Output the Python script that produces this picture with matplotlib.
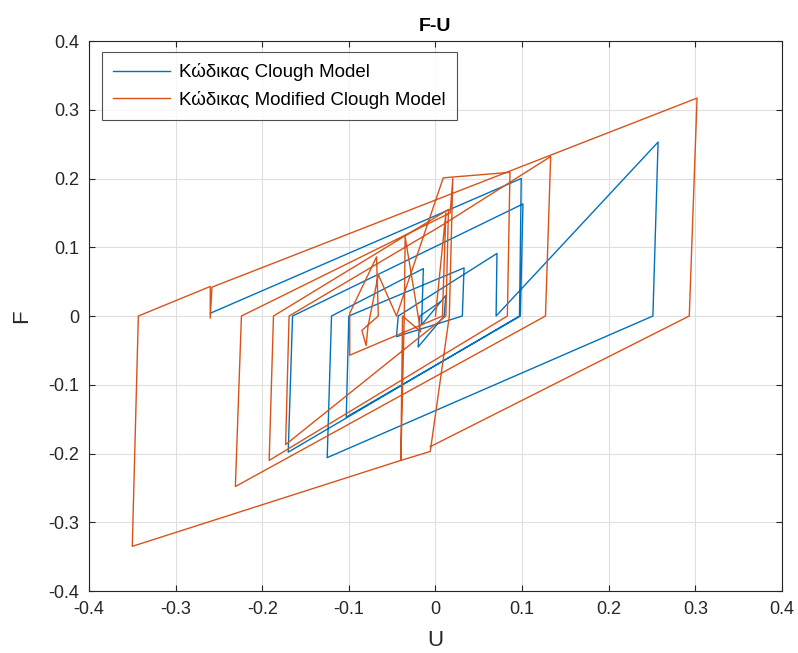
import matplotlib
matplotlib.use("Agg")
import matplotlib.pyplot as plt

# Clough model response: displacement U and restoring force F at each turning point
clough_u = [-0.260, 0.099, 0.097, -0.170, -0.165, 0.101, 0.098, -0.103, -0.100,
            0.033, 0.031, -0.045, -0.043, 0.071, 0.070, 0.257, 0.251, -0.125,
            -0.120, -0.014, -0.016, 0.012, 0.010, -0.020, -0.018, 0.005]
clough_f = [0.004, 0.200, 0.000, -0.198, 0.000, 0.163, 0.000, -0.147, 0.000,
            0.070, 0.000, -0.030, 0.000, 0.091, 0.000, 0.253, 0.000, -0.206,
            0.000, 0.069, -0.013, 0.030, 0.000, -0.045, 0.000, 0.020]

# Modified Clough model response
mod_u = [0.000, 0.012, 0.008, -0.099, -0.099, -0.068, -0.066, -0.085, -0.080,
         -0.078, -0.066, -0.045, 0.009, 0.086, 0.083, -0.192, -0.187, 0.015,
         0.012, -0.173, -0.169, 0.005, 0.133, 0.127, -0.231, -0.224, 0.017,
         0.020, 0.016, -0.006, -0.040, -0.036, -0.035, -0.017, -0.038, -0.040,
         -0.350, -0.343, -0.260, -0.260, -0.258, 0.302, 0.293, -0.006]
mod_f = [0.000, 0.150, 0.000, -0.057, 0.004, 0.086, 0.000, -0.021, -0.043,
         -0.016, 0.060, 0.000, 0.201, 0.209, 0.000, -0.210, 0.000, 0.155,
         0.000, -0.187, 0.000, 0.130, 0.232, 0.000, -0.248, 0.000, 0.150,
         0.200, 0.000, -0.197, -0.210, 0.000, 0.115, -0.023, 0.000, -0.210,
         -0.335, 0.000, 0.043, -0.003, 0.042, 0.317, 0.000, -0.190]

labels = ["Κώδικας Clough Model", "Κώδικας Modified Clough Model"]
x_ticks = [-0.4, -0.3, -0.2, -0.1, 0, 0.1, 0.2, 0.3, 0.4]
y_ticks = [-0.4, -0.3, -0.2, -0.1, 0, 0.1, 0.2, 0.3, 0.4]
tick_text = ["-0.4", "-0.3", "-0.2", "-0.1", "0", "0.1", "0.2", "0.3", "0.4"]

plt.rcParams["font.family"] = ["Liberation Sans", "DejaVu Sans"]

fig = plt.figure(figsize=(7.98, 6.53), dpi=100)
ax = fig.add_axes([0.1115, 0.0949, 0.8684, 0.8423])

ax.plot(clough_u, clough_f, color="#0072BD", lw=1.0, label=labels[0])
ax.plot(mod_u, mod_f, color="#D95319", lw=1.0, label=labels[1])

ax.set_xlim(-0.4, 0.4)
ax.set_ylim(-0.4, 0.4)
ax.set_xticks(x_ticks)
ax.set_yticks(y_ticks)
ax.set_xticklabels(tick_text)
ax.set_yticklabels(tick_text)
ax.tick_params(direction="in", length=4, labelsize=13, colors="#262626",
               top=True, right=True, pad=7)
ax.grid(True, color="#dfdfdf", lw=0.8)
ax.set_axisbelow(True)
for s in ax.spines.values():
    s.set_color("#262626")
    s.set_linewidth(0.8)

ax.set_title("F-U", fontsize=14, fontweight="bold", color="#000000", pad=7)
ax.set_xlabel("U", fontsize=16, color="#262626", labelpad=9)
ax.set_ylabel("F", fontsize=16, color="#262626", labelpad=12)

leg = ax.legend(loc="upper left", fontsize=13.5, frameon=True, fancybox=False,
                edgecolor="#262626", handlelength=3.0, handletextpad=0.5,
                borderpad=0.6, borderaxespad=0.0,
                bbox_to_anchor=(0.019, 0.98), labelspacing=0.5)
leg.get_frame().set_linewidth(0.8)

fig.savefig("out.png", dpi=100, facecolor="white")
